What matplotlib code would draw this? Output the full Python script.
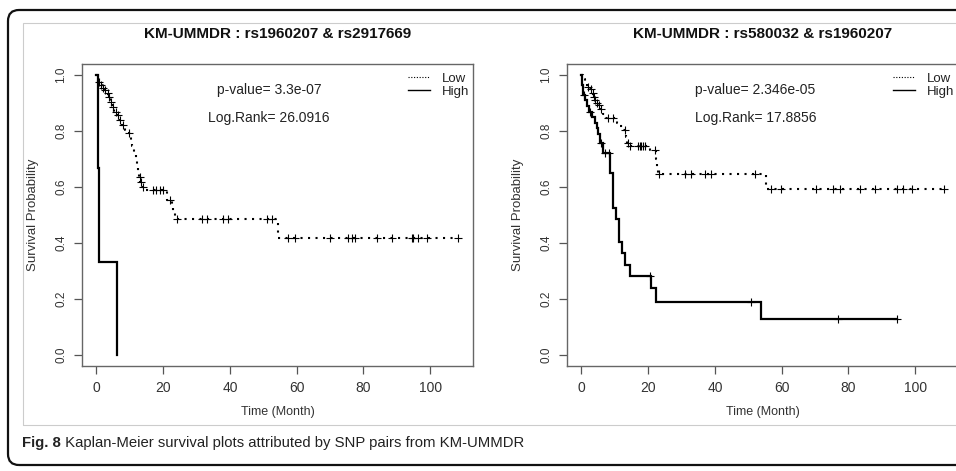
import numpy as np
import matplotlib
matplotlib.use("Agg")
import matplotlib.pyplot as plt
from matplotlib.patches import FancyBboxPatch, Rectangle
from matplotlib.transforms import IdentityTransform
from matplotlib import font_manager
from matplotlib.lines import Line2D

# ---------------- data ----------------
titles = ["KM-UMMDR : rs1960207 & rs2917669", "KM-UMMDR : rs580032 & rs1960207"]
pvalue_labels = ["p-value= 3.3e-07", "p-value= 2.346e-05"]
logrank_labels = ["Log.Rank= 26.0916", "Log.Rank= 17.8856"]
group_names = ["Low", "High"]
x_label = "Time (Month)"
y_label = "Survival Probability"
x_ticks = [0, 20, 40, 60, 80, 100]
y_ticks = [0.0, 0.2, 0.4, 0.6, 0.8, 1.0]
caption_bold = "Fig. 8"
caption_text = " Kaplan-Meier survival plots attributed by SNP pairs from KM-UMMDR"

# left panel: rs1960207 & rs2917669
left_low_time = [0, 0.5, 1.1, 1.8, 2.4, 3.1, 3.6, 4.1, 4.6, 5.2, 6.0, 6.8, 7.4, 8.6, 9.4,
                 10.2, 10.7, 11.2, 11.7, 12.1, 12.5, 12.8, 13.1, 13.6, 14.5, 21.0, 22.6,
                 23.0, 23.5, 54.5, 108.4]
left_low_surv = [1.0, 0.975, 0.965, 0.953, 0.947, 0.935, 0.923, 0.905, 0.887, 0.870, 0.858,
                 0.840, 0.822, 0.805, 0.792, 0.770, 0.748, 0.725, 0.700, 0.676, 0.655, 0.637,
                 0.619, 0.601, 0.589, 0.554, 0.530, 0.508, 0.486, 0.417, 0.417]
left_low_censor = [0.7, 1.4, 2.1, 2.7, 3.4, 3.9, 4.4, 4.9, 5.7, 6.4, 7.1, 7.9, 9.7, 12.9,
                   13.2, 13.9, 16.8, 17.8, 18.9, 19.9, 21.9, 24.2, 31.5, 33.0, 37.8, 39.3,
                   51.0, 52.5, 57.4, 59.5, 70.0, 75.4, 76.6, 77.5, 84.1, 88.6, 94.6, 95.0,
                   96.4, 99.1, 108.4]
left_high_time = [0, 0.4, 0.7, 6.1, 6.1]
left_high_surv = [1.0, 0.667, 0.333, 0.0, 0.0]
left_high_censor = []

# right panel: rs580032 & rs1960207
right_low_time = [0, 0.4, 1.0, 1.6, 2.5, 3.2, 3.6, 4.0, 4.4, 5.0, 5.6, 6.4, 7.2, 10.6, 11.6,
                  12.5, 13.3, 13.7, 14.2, 20.5, 22.2, 22.6, 23.0, 55.4, 108.5]
right_low_surv = [1.0, 0.985, 0.970, 0.959, 0.950, 0.935, 0.923, 0.911, 0.902, 0.893, 0.880,
                  0.862, 0.846, 0.830, 0.818, 0.804, 0.780, 0.756, 0.747, 0.733, 0.700,
                  0.665, 0.647, 0.592, 0.592]
right_low_censor = [1.9, 2.9, 3.4, 3.7, 4.2, 4.6, 5.2, 5.9, 7.9, 9.4, 12.9, 13.9, 14.4, 16.9,
                    17.4, 17.9, 18.4, 18.9, 21.9, 23.2, 30.9, 32.9, 36.9, 38.9, 51.9, 56.9,
                    59.9, 70.4, 75.4, 77.5, 83.5, 88.0, 94.5, 96.5, 99.0, 108.5]
right_high_time = [0, 0.3, 0.6, 1.2, 1.8, 2.3, 3.3, 4.0, 4.6, 5.0, 5.5, 6.3, 8.5, 9.4, 10.2,
                   11.2, 12.2, 12.9, 14.4, 20.9, 22.2, 53.9, 94.5]
right_high_surv = [1.0, 0.965, 0.930, 0.910, 0.890, 0.870, 0.850, 0.830, 0.810, 0.790, 0.757,
                   0.720, 0.649, 0.525, 0.486, 0.405, 0.363, 0.320, 0.282, 0.238, 0.190,
                   0.127, 0.127]
right_high_censor = [0.9, 2.6, 5.9, 6.9, 8.3, 20.5, 50.9, 76.9, 94.5]

panels = [
    dict(low=(left_low_time, left_low_surv, left_low_censor),
         high=(left_high_time, left_high_surv, left_high_censor)),
    dict(low=(right_low_time, right_low_surv, right_low_censor),
         high=(right_high_time, right_high_surv, right_high_censor)),
]

# ---------------- style ----------------
avail = {f.name for f in font_manager.fontManager.ttflist}
SANS = "Liberation Sans" if "Liberation Sans" in avail else "DejaVu Sans"
plt.rcParams["font.family"] = [SANS, "DejaVu Sans"]

W, H = 956, 471
fig = plt.figure(figsize=(W / 100, H / 100), dpi=100)
fig.patch.set_facecolor("white")

# outer rounded frame and inner grey panel (pixel coordinates, origin bottom-left)
outer = FancyBboxPatch((8, H - 465), 990, 455, boxstyle="round,pad=0,rounding_size=11",
                       transform=IdentityTransform(), fill=False, ec="#111111", lw=1.6,
                       clip_on=False)
inner = Rectangle((23, H - 425), 960, 402, transform=IdentityTransform(), fill=False,
                  ec="#cccccc", lw=0.8, clip_on=False)
fig.patches.extend([outer, inner])

AX_W = 391
axes_left_px = [82, 567]
AX_TOP, AX_BOT = 64, 366
text_pos = [(36.1, 0.947, 33.4, 0.847), (34.0, 0.947, 34.0, 0.847)]

def km_y(times, surv, t):
    idx = np.searchsorted(np.asarray(times), np.asarray(t, dtype=float), side="right") - 1
    return np.asarray(surv)[idx]

for i, (p, lpx) in enumerate(zip(panels, axes_left_px)):
    ax = fig.add_axes([lpx / W, 1 - AX_BOT / H, AX_W / W, (AX_BOT - AX_TOP) / H])
    ax.set_xlim(-4.34, 112.84)
    ax.set_ylim(-0.04, 1.04)

    ht, hs, hc = p["high"]
    ax.step(ht, hs, where="post", color="black", lw=1.6, solid_joinstyle="miter")
    lt, ls, lc = p["low"]
    ax.step(lt, ls, where="post", color="black", lw=1.5, linestyle=(0, (1, 2.6)))
    if len(hc):
        ax.plot(hc, km_y(ht, hs, hc), linestyle="none", marker="+", ms=6, mew=0.8,
                color="black")
    ax.plot(lc, km_y(lt, ls, lc), linestyle="none", marker="+", ms=6, mew=0.8,
            color="black")

    for sp in ax.spines.values():
        sp.set_color("#666666")
        sp.set_linewidth(1.0)
    ax.set_xticks(x_ticks)
    ax.set_yticks(y_ticks)
    ax.set_xticklabels([str(v) for v in x_ticks], fontsize=10, color="#333333")
    ax.set_yticklabels([f"{v:.1f}" for v in y_ticks], fontsize=8.5, color="#333333",
                       rotation=90, va="center")
    ax.tick_params(axis="both", direction="out", length=5.5, width=0.9, color="#555555")
    ax.tick_params(axis="x", pad=5)
    ax.tick_params(axis="y", pad=5)

    ax.set_title(titles[i], fontsize=11, fontweight="bold", pad=19, color="#111111")
    ax.set_xlabel(x_label, fontsize=9, color="#333333", labelpad=8)
    ax.set_ylabel(y_label, fontsize=9.5, color="#333333", labelpad=11.5)

    px, py, lx, ly = text_pos[i]
    ax.text(px, py, pvalue_labels[i], fontsize=10, color="#222222", va="center", ha="left")
    ax.text(lx, ly, logrank_labels[i], fontsize=10, color="#222222", va="center", ha="left")

    handles = [Line2D([], [], color="black", lw=0.8, linestyle=(0, (1, 1.5))),
               Line2D([], [], color="black", lw=1.0)]
    leg = ax.legend(handles, group_names, loc="upper left",
                    bbox_to_anchor=((408 - 82) / AX_W, 1 - 8.5 / (AX_BOT - AX_TOP)),
                    frameon=False, fontsize=9.5, handlelength=1.65, handletextpad=0.9,
                    labelspacing=0.05, borderpad=0.0, borderaxespad=0.0)
    for t in leg.get_texts():
        t.set_color("#222222")

# caption
r = fig.canvas.get_renderer()
cb = fig.text(22 / W, 1 - 443 / H, caption_bold, fontsize=10.7, fontweight="bold",
              va="center", ha="left", color="#222222")
bb = cb.get_window_extent(renderer=r)
fig.text(bb.x1 / W, 1 - 443 / H, caption_text, fontsize=10.7,
         va="center", ha="left", color="#222222")

fig.savefig("out.png", dpi=100, facecolor="white")
